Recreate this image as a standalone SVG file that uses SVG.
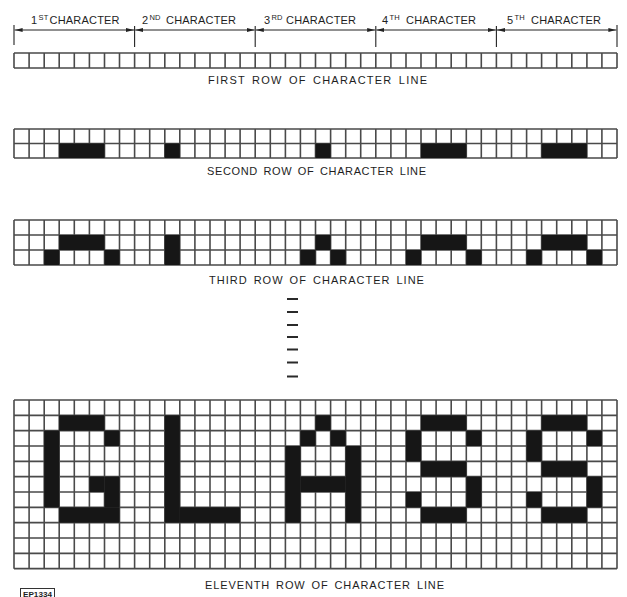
<svg xmlns="http://www.w3.org/2000/svg" xmlns:xlink="http://www.w3.org/1999/xlink" width="627" height="597" viewBox="0 0 627 597">
<style>
.bg{fill:#fff}
.grid{fill:none;stroke:#4a4a4a;stroke-width:1.6}
.on{fill:#161616}
.t{font-family:"Liberation Sans",Arial,sans-serif;fill:#1e1e1e}
.hd{font-size:11px;letter-spacing:0.2px}
.sup{font-size:7.5px}
.lbl{font-size:11px;letter-spacing:1px;word-spacing:2px}
.dim{stroke:#222;stroke-width:1;fill:none}
.tick{stroke:#222;stroke-width:1.1}
.dash{fill:#2a2a2a}
</style>
<defs>
<marker id="ah" viewBox="0 0 8 6" refX="8" refY="3" markerWidth="8" markerHeight="6" orient="auto-start-reverse" markerUnits="userSpaceOnUse"><path d="M0 0.9L8 3L0 5.1z" fill="#222"/></marker>
<path id="vl" d="M14 0V170M29.1 0V170M44.2 0V170M59.2 0V170M74.3 0V170M89.4 0V170M104.5 0V170M119.5 0V170M134.6 0V170M149.7 0V170M164.8 0V170M179.8 0V170M194.9 0V170M210 0V170M225.1 0V170M240.1 0V170M255.2 0V170M270.3 0V170M285.4 0V170M300.4 0V170M315.5 0V170M330.6 0V170M345.7 0V170M360.7 0V170M375.8 0V170M390.9 0V170M406 0V170M421 0V170M436.1 0V170M451.2 0V170M466.3 0V170M481.3 0V170M496.4 0V170M511.5 0V170M526.6 0V170M541.6 0V170M556.7 0V170M571.8 0V170M586.9 0V170M601.9 0V170M617 0V170"/>
<clipPath id="c1"><rect x="12" y="53" width="607" height="15"/></clipPath>
<clipPath id="c2"><rect x="12" y="129" width="607" height="29"/></clipPath>
<clipPath id="c3"><rect x="12" y="220" width="607" height="45"/></clipPath>
<clipPath id="c4"><rect x="12" y="400" width="607" height="168.67"/></clipPath>
</defs>
<rect class="bg" x="0" y="0" width="627" height="597"/>

<g id="header">
<g class="tick">
<line x1="14" y1="25" x2="14" y2="45"/>
<line x1="134.6" y1="26" x2="134.6" y2="47"/>
<line x1="255.2" y1="26" x2="255.2" y2="47"/>
<line x1="375.8" y1="26" x2="375.8" y2="47"/>
<line x1="496.4" y1="26" x2="496.4" y2="47"/>
<line x1="617" y1="25" x2="617" y2="47"/>
</g>
<g id="connectors" class="dim" marker-start="url(#ah)" marker-end="url(#ah)">
<line x1="14.6" y1="30" x2="134" y2="30"/>
<line x1="135.2" y1="30" x2="254.6" y2="30"/>
<line x1="255.8" y1="30" x2="375.2" y2="30"/>
<line x1="376.4" y1="30" x2="495.8" y2="30"/>
<line x1="497" y1="30" x2="616.4" y2="30"/>
</g>
<text class="t hd" y="23.5"><tspan x="31">1</tspan><tspan class="sup" x="38.5" y="19.5">ST</tspan><tspan x="49.5" y="23.5">CHARACTER</tspan></text>
<text class="t hd" y="23.5"><tspan x="142">2</tspan><tspan class="sup" x="149.5" y="19.5">ND</tspan><tspan x="166" y="23.5">CHARACTER</tspan></text>
<text class="t hd" y="23.5"><tspan x="264">3</tspan><tspan class="sup" x="271.5" y="19.5">RD</tspan><tspan x="286" y="23.5">CHARACTER</tspan></text>
<text class="t hd" y="23.5"><tspan x="382">4</tspan><tspan class="sup" x="389.5" y="19.5">TH</tspan><tspan x="406" y="23.5">CHARACTER</tspan></text>
<text class="t hd" y="23.5"><tspan x="507">5</tspan><tspan class="sup" x="514.5" y="19.5">TH</tspan><tspan x="531" y="23.5">CHARACTER</tspan></text>
</g>

<g id="row1">
<g clip-path="url(#c1)"><use xlink:href="#vl" href="#vl" class="grid" transform="translate(0,53)"/></g>
<path class="grid" d="M14 53H617M14 68H617"/>
<text class="t lbl" x="208" y="83.5" textLength="220" lengthAdjust="spacing">FIRST ROW OF CHARACTER LINE</text>
</g>

<g id="row2">
<g clip-path="url(#c2)"><use xlink:href="#vl" href="#vl" class="grid" transform="translate(0,129)"/></g>
<path class="grid" d="M14 129H617M14 143.5H617M14 158H617"/>
<g class="on">
<rect x="59.2" y="143.5" width="45.3" height="14.5"/>
<rect x="164.8" y="143.5" width="15" height="14.5"/>
<rect x="315.5" y="143.5" width="15.1" height="14.5"/>
<rect x="421" y="143.5" width="45.3" height="14.5"/>
<rect x="541.6" y="143.5" width="45.3" height="14.5"/>
</g>
<text class="t lbl" x="207" y="174.5" textLength="220" lengthAdjust="spacing">SECOND ROW OF CHARACTER LINE</text>
</g>

<g id="row3">
<g clip-path="url(#c3)"><use xlink:href="#vl" href="#vl" class="grid" transform="translate(0,220)"/></g>
<path class="grid" d="M14 220H617M14 235H617M14 250H617M14 265H617"/>
<g class="on">
<rect x="59.2" y="235" width="45.3" height="15"/>
<rect x="164.8" y="235" width="15" height="30"/>
<rect x="315.5" y="235" width="15.1" height="15"/>
<rect x="421" y="235" width="45.3" height="15"/>
<rect x="541.6" y="235" width="45.3" height="15"/>
<rect x="44.2" y="250" width="15" height="15"/>
<rect x="104.5" y="250" width="15" height="15"/>
<rect x="300.4" y="250" width="15.1" height="15"/>
<rect x="330.6" y="250" width="15.1" height="15"/>
<rect x="406" y="250" width="15" height="15"/>
<rect x="466.3" y="250" width="15" height="15"/>
<rect x="526.6" y="250" width="15" height="15"/>
<rect x="586.9" y="250" width="15" height="15"/>
</g>
<text class="t lbl" y="283.5"><tspan x="209">THIRD ROW OF </tspan><tspan x="313">CHARACTER LINE</tspan></text>
</g>

<g id="ellipsis" class="dash">
<rect x="287" y="298" width="11" height="2"/>
<rect x="287" y="311" width="11" height="2"/>
<rect x="287" y="324" width="11" height="2"/>
<rect x="287" y="336" width="11" height="2"/>
<rect x="287" y="348.5" width="11" height="2"/>
<rect x="287" y="361.5" width="11" height="2"/>
<rect x="287" y="375.5" width="11" height="2"/>
</g>

<g id="row11">
<g clip-path="url(#c4)"><use xlink:href="#vl" href="#vl" class="grid" transform="translate(0,400)"/></g>
<path class="grid" d="M14 400H617M14 415.33H617M14 430.67H617M14 446H617M14 461.33H617M14 476.67H617M14 492H617M14 507.33H617M14 522.67H617M14 538H617M14 553.33H617M14 568.67H617"/>
<g id="letter-G" class="on">
<rect x="59.2" y="415.33" width="45.3" height="15.34"/>
<rect x="44.2" y="430.67" width="15" height="76.66"/>
<rect x="104.5" y="430.67" width="15" height="15.33"/>
<rect x="89.4" y="476.67" width="15.1" height="15.33"/>
<rect x="104.5" y="476.67" width="15" height="30.66"/>
<rect x="59.2" y="507.33" width="60.3" height="15.34"/>
</g>
<g id="letter-L" class="on">
<rect x="164.8" y="415.33" width="15" height="107.34"/>
<rect x="179.8" y="507.33" width="60.3" height="15.34"/>
</g>
<g id="letter-A" class="on">
<rect x="315.5" y="415.33" width="15.1" height="15.34"/>
<rect x="300.4" y="430.67" width="15.1" height="15.33"/>
<rect x="330.6" y="430.67" width="15.1" height="15.33"/>
<rect x="285.4" y="446" width="15" height="76.67"/>
<rect x="345.7" y="446" width="15" height="76.67"/>
<rect x="300.4" y="476.67" width="45.3" height="15.33"/>
</g>
<g id="letter-S1" class="on">
<rect x="421" y="415.33" width="45.3" height="15.34"/>
<rect x="406" y="430.67" width="15" height="30.66"/>
<rect x="466.3" y="430.67" width="15" height="15.33"/>
<rect x="421" y="461.33" width="45.3" height="15.34"/>
<rect x="466.3" y="476.67" width="15" height="30.66"/>
<rect x="406" y="492" width="15" height="15.33"/>
<rect x="421" y="507.33" width="45.3" height="15.34"/>
</g>
<g id="letter-S2" class="on">
<rect x="541.6" y="415.33" width="45.3" height="15.34"/>
<rect x="526.6" y="430.67" width="15" height="30.66"/>
<rect x="586.9" y="430.67" width="15" height="15.33"/>
<rect x="541.6" y="461.33" width="45.3" height="15.34"/>
<rect x="586.9" y="476.67" width="15" height="30.66"/>
<rect x="526.6" y="492" width="15" height="15.33"/>
<rect x="541.6" y="507.33" width="45.3" height="15.34"/>
</g>
<text class="t lbl" x="205" y="589" textLength="240" lengthAdjust="spacing">ELEVENTH ROW OF CHARACTER LINE</text>
</g>

<g id="ref-tag">
<rect x="20.5" y="588.5" width="34" height="12" fill="none" stroke="#333" stroke-width="1"/>
<text class="t" x="23" y="596.5" font-size="7" font-weight="bold" textLength="29" lengthAdjust="spacingAndGlyphs">EP1334</text>
</g>
</svg>
